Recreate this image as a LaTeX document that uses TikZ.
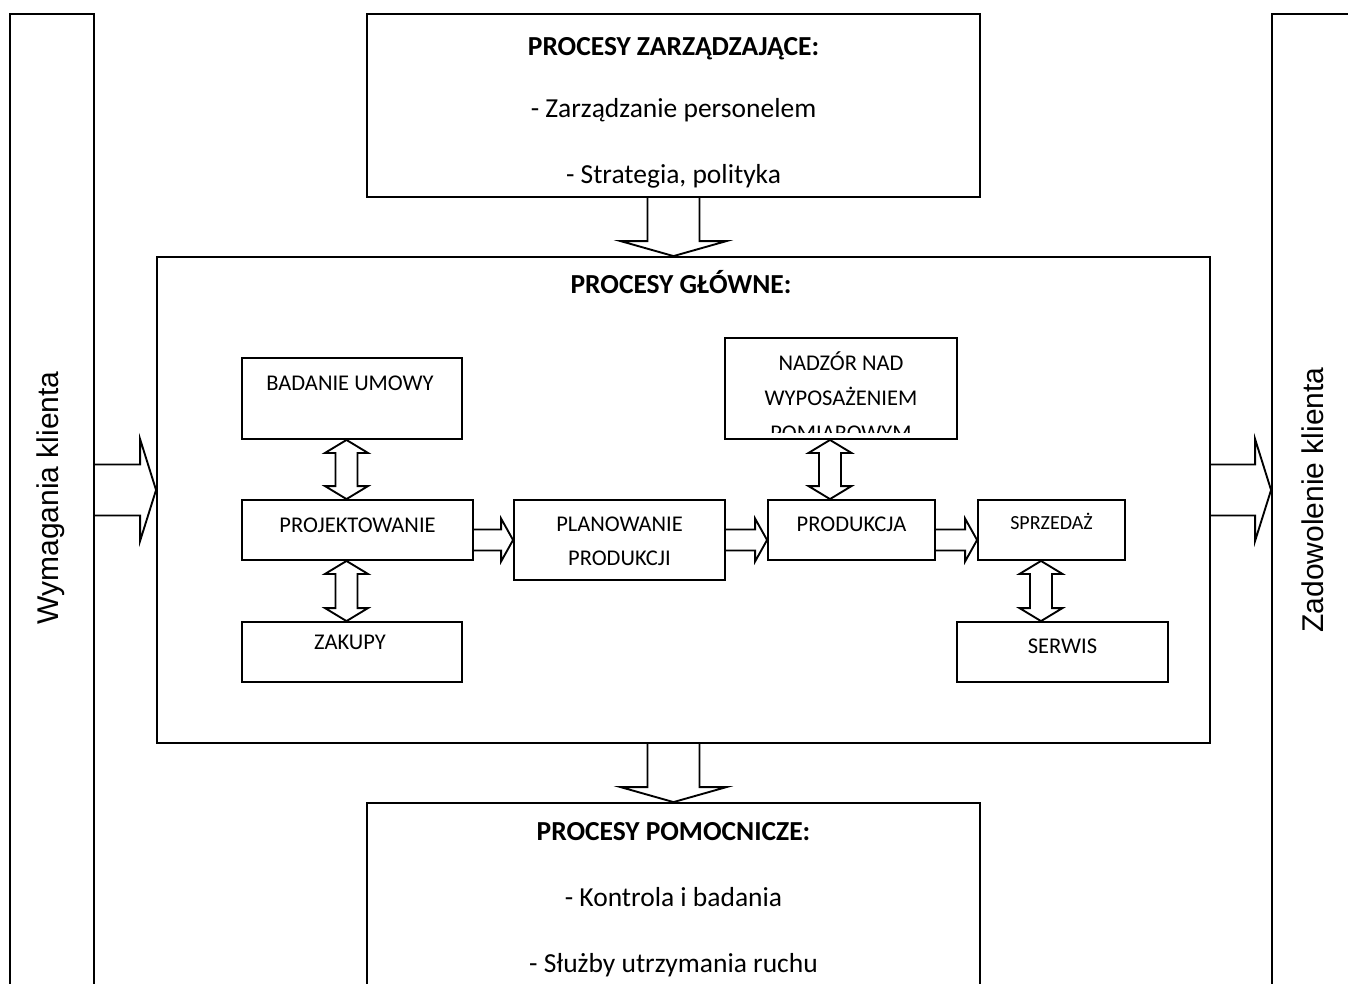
\documentclass[tikz,border=0pt]{standalone}
\usepackage{fontspec}
\setmainfont{Carlito}
\newfontfamily\sidefont{Liberation Sans}
\usetikzlibrary{calc,fit}

% block arrows: shaft half-width, head half-width, head length (pt)
\newcommand\fatdown[5]{%
  \draw let \p1=#1, \p2=#2 in
    (\x1-#3,\y1) -- (\x1-#3,\y2+#5) -- (\x1-#4,\y2+#5) -- (\x1,\y2)
    -- (\x1+#4,\y2+#5) -- (\x1+#3,\y2+#5) -- (\x1+#3,\y1);}
\newcommand\fatright[5]{%
  \draw let \p1=#1, \p2=#2 in
    (\x1,\y2+#3) -- (\x2-#5,\y2+#3) -- (\x2-#5,\y2+#4) -- (\x2,\y2)
    -- (\x2-#5,\y2-#4) -- (\x2-#5,\y2-#3) -- (\x1,\y2-#3);}
\newcommand\fatboth[5]{%
  \draw let \p1=#1, \p2=#2 in
    (\x1,\y1) -- (\x1+#4,\y1-#5) -- (\x1+#3,\y1-#5) -- (\x1+#3,\y2+#5)
    -- (\x1+#4,\y2+#5) -- (\x1,\y2) -- (\x1-#4,\y2+#5) -- (\x1-#3,\y2+#5)
    -- (\x1-#3,\y1-#5) -- (\x1-#4,\y1-#5) -- cycle;}

\begin{document}
\begin{tikzpicture}[x=0.4pt,y=-0.4pt,line width=0.75pt,line join=miter,
  frame/.style={draw,rectangle,inner sep=0pt,line width=0.75pt},
  big/.style={anchor=base,font=\fontsize{11}{13}\selectfont},
  bighead/.style={anchor=base,font=\bfseries\fontsize{11}{13}\selectfont},
  small/.style={anchor=base,font=\fontsize{9}{11}\selectfont},
  tiny/.style={anchor=base,font=\fontsize{8}{10}\selectfont},
  side/.style={rotate=90,inner sep=0pt,font=\sidefont\fontsize{12}{14}\selectfont}]
\useasboundingbox (0,0) rectangle (1348,983);

% outer frames
\node[frame,fit={(10,14) (94,1000)}] (wym) {};
\node[frame,fit={(1272,14) (1360,1000)}] (zad) {};
\node[frame,fit={(367,14) (980,197)}] (zarz) {};
\node[frame,fit={(157,257) (1210,743)}] (glowne) {};
\node[frame,fit={(367,803) (980,1000)}] (pomoc) {};

% inner process boxes
\node[frame,fit={(242,358) (462,439)}] (badanie) {};
\node[frame,fit={(242,500) (473,560)}] (proj) {};
\node[frame,fit={(242,622) (462,682)}] (zakupy) {};
\node[frame,fit={(514,500) (725,580)}] (plan) {};
\node[frame,fit={(725,338) (957,439)}] (nadzor) {};
\node[frame,fit={(768,500) (935,560)}] (prod) {};
\node[frame,fit={(978,500) (1125,560)}] (sprz) {};
\node[frame,fit={(957,622) (1168,682)}] (serwis) {};

% side labels
\node[side] (wymtxt) at (51,498) {Wymagania klienta};
\node[side] (zadtxt) at (1313,500) {Zadowolenie klienta};

% texts of the large boxes
\node[bighead] (t1) at (673.5,55) {PROCESY ZARZĄDZAJĄCE:};
\node[big] (t2) at (673.5,117) {- Zarządzanie personelem};
\node[big] (t3) at (673.5,183) {- Strategia, polityka};
\node[bighead] (t4) at (681,293) {PROCESY GŁÓWNE:};
\node[bighead] (t5) at (673.5,840) {PROCESY POMOCNICZE:};
\node[big] (t6) at (673.5,906) {- Kontrola i badania};
\node[big] (t7) at (673.5,972) {- Służby utrzymania ruchu};

% texts of the process boxes
\node[small] (s1) at (350,390) {BADANIE UMOWY};
\node[small] (s2) at (357.5,532) {PROJEKTOWANIE};
\node[small] (s3) at (350,649) {ZAKUPY};
\node[small] (s4) at (619.5,531) {PLANOWANIE};
\node[small] (s5) at (619.5,565) {PRODUKCJI};
\node[small] (s6) at (841,370) {NADZÓR NAD};
\node[small] (s7) at (841,405) {WYPOSAŻENIEM};
\begin{scope}
  \clip (725,338) rectangle (957,432);
  \node[small] (s8) at (841,440) {POMIAROWYM};
\end{scope}
\node[small] (s9) at (851.5,531) {PRODUKCJA};
\node[tiny] (s10) at (1051.5,529) {SPRZEDAŻ};
\node[small] (s11) at (1062.5,653) {SERWIS};

% flows between the large boxes
\fatdown{(zarz.south)}{(zarz.south |- glowne.north)}{10.4pt}{21.2pt}{6pt}
\fatdown{(pomoc.north |- glowne.south)}{(pomoc.north)}{10.4pt}{21.2pt}{6pt}
\coordinate (inflow) at ([yshift=4pt]glowne.west);
\coordinate (outflow) at ([yshift=4pt]glowne.east);
\fatright{(wym.east |- inflow)}{(inflow)}{10.2pt}{20.4pt}{6.4pt}
\fatright{(outflow)}{(zad.west |- outflow)}{10.2pt}{20.4pt}{6.4pt}

% flows between the process boxes
\fatright{(proj.east |- plan.west)}{(plan.west)}{4.2pt}{8.6pt}{4.8pt}
\fatright{(plan.east)}{(prod.west |- plan.east)}{4.2pt}{8.6pt}{4.8pt}
\fatright{(prod.east |- plan.east)}{(sprz.west |- plan.east)}{4.2pt}{8.6pt}{4.8pt}

\coordinate (ba) at ([xshift=-2.2pt]badanie.south);
\coordinate (na) at ([xshift=-4.4pt]nadzor.south);
\coordinate (sa) at ([xshift=-4.2pt]sprz.south);
\fatboth{(ba)}{(ba |- proj.north)}{4.4pt}{8.6pt}{5.2pt}
\fatboth{(ba |- proj.south)}{(ba |- zakupy.north)}{4.4pt}{8.6pt}{5.2pt}
\fatboth{(na)}{(na |- prod.north)}{4.4pt}{8.6pt}{5.2pt}
\fatboth{(sa)}{(sa |- serwis.north)}{4.4pt}{8.6pt}{5.2pt}
\end{tikzpicture}
\end{document}
